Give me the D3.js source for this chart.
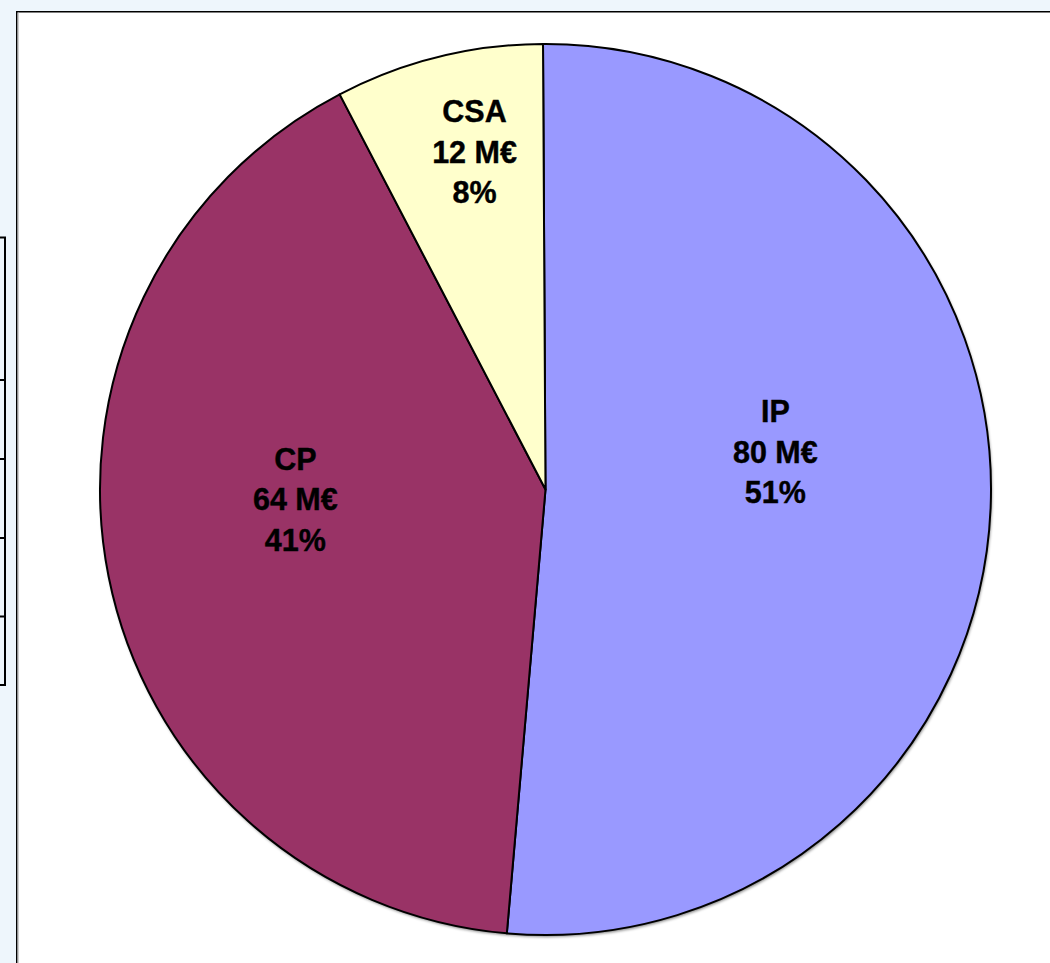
<!DOCTYPE html>
<html>
<head>
<meta charset="utf-8">
<script src="https://cdn.jsdelivr.net/npm/d3@7"></script>
<style>
html,body{margin:0;padding:0;background:#eef6fc;overflow:hidden;}
svg{display:block;}
</style>
</head>
<body>
<svg id="chart" width="1050" height="963"></svg>
<script>
// Data
const categories = ["IP", "CP", "CSA"];
const values = [80.4, 64.0, 11.8];          // M€
const colors = ["#9999ff", "#993366", "#ffffcc"];
// label layout (radius along mid-angle, then a small nudge)
const labelRadius = [230, 250, 347];
const labelNudge = [[0, -47], [-5, -39], [12.5, -0.7]];
const tableRows = [0, 1, 2, 3, 4, 5];

const W = 1050, H = 963;
const svg = d3.select("#chart");

// background
svg.append("rect").attr("width", W).attr("height", H).attr("fill", "#eef6fc");

// partial table on the left
const tableY = d3.scaleOrdinal().domain(tableRows).range([237.5, 380, 459, 538, 616.5, 685]);
const tg = svg.append("g").attr("stroke", "#000").attr("stroke-width", 2).attr("fill", "none");
tg.append("line").attr("x1", 5).attr("x2", 5).attr("y1", tableY(0)).attr("y2", tableY(5));
tableRows.forEach(r => {
  tg.append("line").attr("x1", 0).attr("x2", 6).attr("y1", tableY(r)).attr("y2", tableY(r));
});

// chart panel
svg.append("rect").attr("x", 16.75).attr("y", 11.75).attr("width", W + 20).attr("height", H + 20)
  .attr("fill", "#fff").attr("stroke", "#000").attr("stroke-width", 1.5);
svg.append("line").attr("x1", 18.2).attr("x2", 18.2).attr("y1", 12.5).attr("y2", H)
  .attr("stroke", "#b8b8b8").attr("stroke-width", 1);

// pie
const cx = 545.5, cy = 489.5, R = 445.5;
const total = d3.sum(values);
const start = -0.0056;
const pie = d3.pie().sort(null).value(d => d.v).startAngle(start).endAngle(start + 2 * Math.PI);
const data = categories.map((c, i) => ({ c, v: values[i], col: colors[i], i }));
const arcs = pie(data);
const arc = d3.arc().innerRadius(0).outerRadius(R);

const defs = svg.append("defs");
const f = defs.append("filter").attr("id", "sh").attr("x", "-10%").attr("y", "-10%").attr("width", "120%").attr("height", "120%");
f.append("feGaussianBlur").attr("in", "SourceAlpha").attr("stdDeviation", 1.5).attr("result", "b");
f.append("feOffset").attr("in", "b").attr("dx", 1).attr("dy", 2).attr("result", "o");
f.append("feComponentTransfer").attr("in", "o").attr("result", "o2")
  .append("feFuncA").attr("type", "linear").attr("slope", 0.5);
const m = f.append("feMerge");
m.append("feMergeNode").attr("in", "o2");
m.append("feMergeNode").attr("in", "SourceGraphic");

const g = svg.append("g").attr("transform", `translate(${cx},${cy})`);
g.append("circle").attr("r", R).attr("fill", "#fff").attr("filter", "url(#sh)");
g.selectAll("path.slice").data(arcs).join("path")
  .attr("class", "slice")
  .attr("d", arc)
  .attr("fill", d => d.data.col)
  .attr("stroke", "#000")
  .attr("stroke-width", 2)
  .attr("stroke-linejoin", "round");

// labels
const lab = g.selectAll("g.lab").data(arcs).join("g").attr("class", "lab")
  .attr("transform", d => {
    const r = labelRadius[d.data.i];
    const c = d3.arc().innerRadius(r).outerRadius(r).centroid(d);
    const n = labelNudge[d.data.i];
    return `translate(${c[0] + n[0]},${c[1] + n[1]})`;
  });
lab.each(function(d) {
  const lines = [d.data.c, Math.round(d.data.v) + " M€", Math.round(d.data.v / total * 100) + "%"];
  const s = d3.select(this);
  lines.forEach((t, j) => {
    s.append("text")
      .attr("x", 0)
      .attr("y", 10.75 + (j - 1) * 40.5)
      .attr("text-anchor", "middle")
      .attr("font-family", "Arial, 'Liberation Sans', sans-serif")
      .attr("font-weight", "bold")
      .attr("font-size", 30.5)
      .attr("fill", "#000")
      .attr("stroke", "#000")
      .attr("stroke-width", 0.4)
      .text(t);
  });
});
</script>
</body>
</html>
